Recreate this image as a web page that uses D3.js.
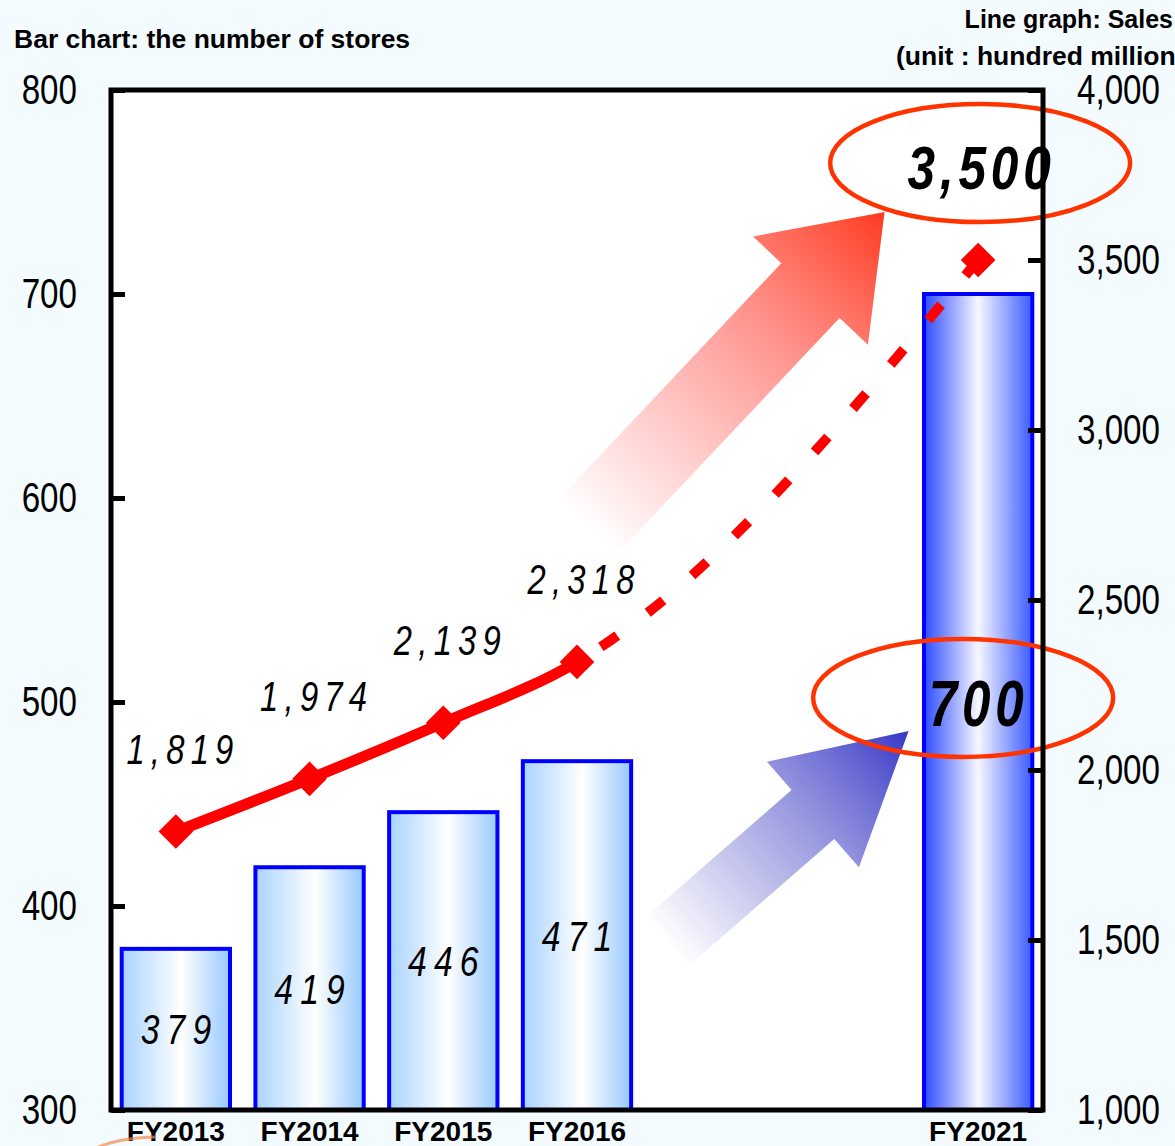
<!DOCTYPE html>
<html>
<head>
<meta charset="utf-8">
<script src="https://cdn.jsdelivr.net/npm/d3@7"></script>
<style>
  body { margin: 0; background: #f4fbfe; }
  svg { display: block; font-family: "Liberation Sans", Arial, sans-serif; }
</style>
</head>
<body>
<svg id="chart" width="1175" height="1146"></svg>
<script>
// slots on the category axis (two empty ones between FY2016 and FY2021)
const slots = ["FY2013", "FY2014", "FY2015", "FY2016", "gap1", "gap2", "FY2021"];
const years = ["FY2013", "FY2014", "FY2015", "FY2016", "FY2021"];
const storeCounts = [379, 419, 446, 471, 700];
const salesValues = [1819, 1974, 2139, 2318, 3500];
const storeTicks = [300, 400, 500, 600, 700, 800];
const salesTicks = [1000, 1500, 2000, 2500, 3000, 3500, 4000];

const svg = d3.select("#chart"),
      margin = {top: 90, right: 132, bottom: 36, left: 111},
      width = +svg.attr("width") - margin.left - margin.right,
      height = +svg.attr("height") - margin.top - margin.bottom;

// narrow the glyphs horizontally (no condensed font available)
function squeeze(sel, sx) {
    sel.each(function() {
        const t = d3.select(this);
        const tx = +t.attr("x") || 0, ty = +t.attr("y") || 0;
        t.attr("x", 0).attr("y", 0)
         .attr("transform", "translate(" + tx + "," + ty + ") scale(" + sx + ",1)");
    });
}

const defs = svg.append("defs");

// gradients
function barGrad(id, edgeL, mid, edgeR, midAt) {
    const g = defs.append("linearGradient").attr("id", id)
        .attr("x1", 0).attr("x2", 1).attr("y1", 0).attr("y2", 0);
    g.append("stop").attr("offset", 0).attr("stop-color", edgeL);
    g.append("stop").attr("offset", midAt).attr("stop-color", mid);
    g.append("stop").attr("offset", 1).attr("stop-color", edgeR);
}
barGrad("barLight", "#a9d3ff", "#ffffff", "#97c9ff", 0.55);
barGrad("barDark", "#2d4bff", "#f7f7ff", "#3a5aff", 0.5);

function arrowGrad(id, color, midColor) {
    const g = defs.append("linearGradient").attr("id", id)
        .attr("x1", 0).attr("x2", 1).attr("y1", 0).attr("y2", 0);
    g.append("stop").attr("offset", 0).attr("stop-color", midColor).attr("stop-opacity", 0);
    g.append("stop").attr("offset", 0.5).attr("stop-color", midColor).attr("stop-opacity", 0.6);
    g.append("stop").attr("offset", 1).attr("stop-color", color).attr("stop-opacity", 1);
}
arrowGrad("arrowRed", "#ff3a1f", "#ff6f6a");
arrowGrad("arrowBlue", "#3636c8", "#6a6ad0");

const g = svg.append("g").attr("transform", "translate(" + margin.left + "," + margin.top + ")");

const x = d3.scaleBand().domain(slots).range([0, width]).paddingInner(0.19).paddingOuter(0.08),
      yL = d3.scaleLinear().domain([300, 800]).range([height, 0]),
      yR = d3.scaleLinear().domain([1000, 4000]).range([height, 0]);
const cx = k => x(k) + x.bandwidth() / 2;
const slotX = i => cx(slots[0]) + i * x.step();

// plot background
g.append("rect").attr("width", width).attr("height", height).attr("fill", "#ffffff");

// decorative arrows (tail/tip given in slot index and sales units)
const arrows = [
    {fill: "url(#arrowRed)", tail: [3.08, 2715], tip: [5.30, 3641], shaft: 80, head: 158, headLen: 108},
    {fill: "url(#arrowBlue)", tail: [3.67, 1494], tip: [5.48, 2115], shaft: 65, head: 140, headLen: 127}
];
arrows.forEach(a => {
    const x0 = slotX(a.tail[0]), y0 = yR(a.tail[1]),
          x1 = slotX(a.tip[0]), y1 = yR(a.tip[1]);
    const L = Math.hypot(x1 - x0, y1 - y0),
          ang = Math.atan2(y1 - y0, x1 - x0) * 180 / Math.PI;
    const b = L - a.headLen;
    const pts = [[0, -a.shaft / 2], [b, -a.shaft / 2], [b, -a.head / 2], [L, 0],
                 [b, a.head / 2], [b, a.shaft / 2], [0, a.shaft / 2]];
    g.append("path")
        .attr("transform", "translate(" + x0 + "," + y0 + ") rotate(" + ang + ")")
        .attr("d", d3.line()(pts) + "Z")
        .attr("fill", a.fill);
});

// bars
const bars = years.map((k, i) => ({key: k, value: storeCounts[i]}));
g.selectAll(".bar").data(bars).join("rect")
    .attr("class", "bar")
    .attr("x", d => x(d.key))
    .attr("y", d => yL(d.value))
    .attr("width", x.bandwidth())
    .attr("height", d => height - yL(d.value))
    .attr("fill", d => d.key === "FY2021" ? "url(#barDark)" : "url(#barLight)")
    .attr("stroke", "#0000ff")
    .attr("stroke-width", 4);

// bar labels
g.selectAll(".barLabel").data(bars).join("text")
    .attr("x", d => cx(d.key) - (d.key === "FY2021" ? 2 : 0))
    .attr("y", d => (yL(d.value) + height) / 2 + (d.key === "FY2021" ? 24 : 15))
    .attr("dx", d => d.key === "FY2021" ? 3 : 4.5)
    .attr("text-anchor", "middle")
    .attr("font-style", "italic")
    .attr("font-weight", d => d.key === "FY2021" ? "bold" : "normal")
    .attr("font-size", d => d.key === "FY2021" ? 64 : 42)
    .attr("letter-spacing", d => d.key === "FY2021" ? 6 : 9)
    .text(d => d.value)
    .call(squeeze, 0.8);

// sales line
const sales = years.map((k, i) => ({key: k, value: salesValues[i]}));
const line = d3.line()
    .x(d => cx(d.key))
    .y(d => yR(d.value))
    .curve(d3.curveMonotoneX);
const split = cx("FY2016");

defs.append("clipPath").attr("id", "clipSolid")
    .append("rect").attr("x", -20).attr("y", -100).attr("width", split + 20).attr("height", height + 200);
defs.append("clipPath").attr("id", "clipDash")
    .append("rect").attr("x", split).attr("y", -100).attr("width", width).attr("height", height + 200);

g.append("path")
    .datum(sales)
    .attr("d", line)
    .attr("clip-path", "url(#clipSolid)")
    .attr("fill", "none")
    .attr("stroke", "#ff0000")
    .attr("stroke-width", 11);

g.append("path")
    .datum(sales)
    .attr("d", line)
    .attr("clip-path", "url(#clipDash)")
    .attr("fill", "none")
    .attr("stroke", "#ff0000")
    .attr("stroke-width", 10)
    .attr("stroke-dasharray", "20,38");

// diamond markers
g.selectAll(".marker").data(sales).join("path")
    .attr("class", "marker")
    .attr("transform", d => "translate(" + cx(d.key) + "," + yR(d.value) + ") rotate(45)")
    .attr("d", d3.symbol().type(d3.symbolSquare).size(600))
    .attr("fill", "#ff0000");

// sales labels (the FY2021 value is shown in the ellipse)
g.selectAll(".salesLabel").data(sales.slice(0, 4)).join("text")
    .attr("x", d => cx(d.key) + 4)
    .attr("y", d => yR(d.value) - 68)
    .attr("dx", 4)
    .attr("text-anchor", "middle")
    .attr("font-style", "italic")
    .attr("font-size", 42)
    .attr("letter-spacing", 8)
    .text(d => d3.format(",")(d.value))
    .call(squeeze, 0.78);

// highlight ellipses
const last = sales[sales.length - 1];
const topEll = {x: cx("FY2021") + 2, y: yR(3785)};
const lowEll = {x: cx("FY2021") - 15, y: yL(502)};

g.append("text")
    .attr("x", topEll.x - 1)
    .attr("y", topEll.y + 26)
    .attr("dx", 3)
    .attr("text-anchor", "middle")
    .attr("font-style", "italic")
    .attr("font-weight", "bold")
    .attr("font-size", 62)
    .attr("letter-spacing", 6)
    .text(d3.format(",")(last.value))
    .call(squeeze, 0.8);

[topEll, lowEll].forEach(e => {
    g.append("ellipse")
        .attr("cx", e.x).attr("cy", e.y)
        .attr("rx", 150).attr("ry", 59)
        .attr("fill", "none")
        .attr("stroke", "#ff3300")
        .attr("stroke-width", 4.5);
});

// axes
g.append("g")
    .call(d3.axisLeft(yL).tickValues(storeTicks).tickSize(-14).tickPadding(34))
    .call(a => a.select(".domain").remove())
    .call(a => a.selectAll("line").attr("stroke", "#000").attr("stroke-width", 5))
    .call(a => a.selectAll("text").attr("font-size", 42).attr("fill", "#000")
        .attr("font-family", null).call(squeeze, 0.79));

g.append("g")
    .attr("transform", "translate(" + width + ",0)")
    .call(d3.axisRight(yR).tickValues(salesTicks).tickFormat(d3.format(",")).tickSize(-15).tickPadding(34))
    .call(a => a.select(".domain").remove())
    .call(a => a.selectAll("line").attr("stroke", "#000").attr("stroke-width", 5))
    .call(a => a.selectAll("text").attr("font-size", 42).attr("fill", "#000")
        .attr("font-family", null).call(squeeze, 0.79));

g.append("g")
    .attr("transform", "translate(0," + height + ")")
    .call(d3.axisBottom(x).tickSize(0).tickPadding(11).tickFormat(d => d.startsWith("gap") ? "" : d))
    .call(a => a.select(".domain").remove())
    .call(a => a.selectAll("text").attr("font-size", 28).attr("font-weight", "bold")
        .attr("fill", "#000").attr("font-family", null));

// frame
g.append("rect")
    .attr("width", width).attr("height", height)
    .attr("fill", "none")
    .attr("stroke", "#000")
    .attr("stroke-width", 5);

// faint orange stroke at bottom-left edge
svg.append("path")
    .attr("d", "M92,1150 Q115,1138 155,1137")
    .attr("fill", "none")
    .attr("stroke", "#f08a4a")
    .attr("stroke-opacity", 0.7)
    .attr("stroke-width", 3);

// titles
svg.append("text")
    .attr("x", 14).attr("y", 48)
    .attr("font-weight", "bold").attr("font-size", 26.5)
    .text("Bar chart: the number of stores");

svg.append("text")
    .attr("x", 1173).attr("y", 28)
    .attr("text-anchor", "end")
    .attr("font-weight", "bold").attr("font-size", 25)
    .text("Line graph: Sales");

svg.append("text")
    .attr("x", 896).attr("y", 65)
    .attr("font-weight", "bold").attr("font-size", 26.5)
    .text("(unit : hundred million yen)");
</script>
</body>
</html>
